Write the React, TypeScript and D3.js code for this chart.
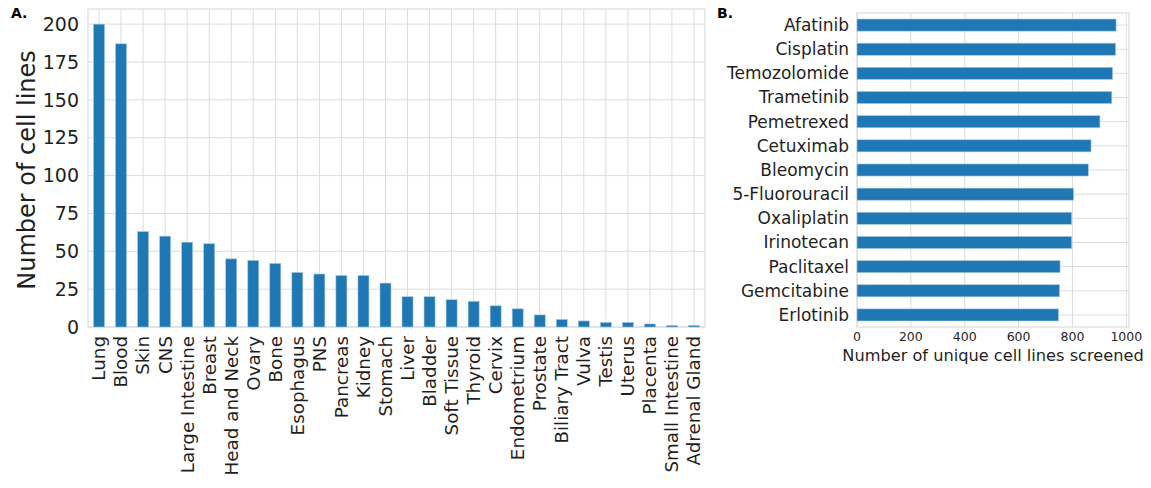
import React from "react";
import * as d3 from "d3";

const tissues = [
  "Lung", "Blood", "Skin", "CNS", "Large Intestine", "Breast", "Head and Neck", "Ovary", "Bone",
  "Esophagus", "PNS", "Pancreas", "Kidney", "Stomach", "Liver", "Bladder", "Soft Tissue", "Thyroid",
  "Cervix", "Endometrium", "Prostate", "Biliary Tract", "Vulva", "Testis", "Uterus", "Placenta",
  "Small Intestine", "Adrenal Gland",
];
const tissueCounts = [
  200, 187, 63, 60, 56, 55, 45, 44, 42, 36, 35, 34, 34, 29, 20, 20, 18, 17, 14, 12, 8, 5, 4, 3, 3, 2, 1, 1,
];
const tissueTicks = [0, 25, 50, 75, 100, 125, 150, 175, 200];

const drugs = [
  "Afatinib", "Cisplatin", "Temozolomide", "Trametinib", "Pemetrexed", "Cetuximab", "Bleomycin",
  "5-Fluorouracil", "Oxaliplatin", "Irinotecan", "Paclitaxel", "Gemcitabine", "Erlotinib",
];
const drugCounts = [962, 960, 949, 946, 902, 869, 859, 804, 797, 797, 754, 752, 748];
const drugTicks = [0, 200, 400, 600, 800, 1000];

const BAR = "#1f77b4";
const GRID = "#dcdcdc";
const TXT = "#1f1f1f";
const FONT = "DejaVu Sans, sans-serif";

export default function App() {
  // Panel A
  const aL = 88, aR = 705, aT = 9, aB = 327;
  const xA = d3.scaleBand<string>().domain(tissues).range([aL, aR]).paddingInner(0).paddingOuter(0);
  const yA = d3.scaleLinear().domain([0, 210]).range([aB, aT]);
  const bwA = xA.bandwidth() * 0.5;

  // Panel B
  const bL = 857, bR = 1129, bT = 13, bB = 327;
  const xB = d3.scaleLinear().domain([0, 1010]).range([bL, bR]);
  const yB = d3.scaleBand<string>().domain(drugs).range([bT, bB]).paddingInner(0).paddingOuter(0);
  const bhB = yB.bandwidth() * 0.5;

  return (
    <svg width={1151} height={488} style={{ position: "absolute", left: 0, top: 0, background: "#fff" }} fontFamily={FONT}>
      <rect x={0} y={0} width={1151} height={488} fill="#fff" />
      {/* Panel A */}
      <text x={11} y={18} fontSize={14} fontWeight="bold" fill="#000">A.</text>
      <g>
        {tissueTicks.map((t) => (
          <line key={"gy" + t} x1={aL} x2={aR} y1={yA(t)} y2={yA(t)} stroke={GRID} strokeWidth={1} />
        ))}
        {tissues.map((c) => {
          const cx = (xA(c) as number) + xA.bandwidth() / 2;
          return <line key={"gx" + c} x1={cx} x2={cx} y1={aT} y2={aB} stroke={GRID} strokeWidth={1} />;
        })}
        <rect x={aL} y={aT} width={aR - aL} height={aB - aT} fill="none" stroke={GRID} strokeWidth={1.2} />
        {tissues.map((c, i) => {
          const cx = (xA(c) as number) + xA.bandwidth() / 2;
          return (
            <rect key={"b" + c} x={cx - bwA / 2} y={yA(tissueCounts[i])} width={bwA}
              height={yA(0) - yA(tissueCounts[i])} fill={BAR} stroke="#a6c8e0" strokeWidth={0.6} />
          );
        })}
        {tissueTicks.map((t) => (
          <text key={"ty" + t} x={79} y={yA(t)} dy="0.35em" textAnchor="end" fontSize={19} fill={TXT}>{t}</text>
        ))}
        {tissues.map((c) => {
          const cx = (xA(c) as number) + xA.bandwidth() / 2;
          return (
            <text key={"tx" + c} transform={`translate(${cx},${aB + 9}) rotate(-90)`} dy="0.35em"
              textAnchor="end" fontSize={18.3} fill={TXT}>{c}</text>
          );
        })}
        <text transform={`translate(35,${(aT + aB) / 2 + 2}) rotate(-90)`} textAnchor="middle" fontSize={24} fill={TXT}>
          Number of cell lines
        </text>
      </g>

      {/* Panel B */}
      <text x={717} y={18} fontSize={14} fontWeight="bold" fill="#000">B.</text>
      <g>
        {drugTicks.map((t) => (
          <line key={"gbx" + t} x1={xB(t)} x2={xB(t)} y1={bT} y2={bB} stroke={GRID} strokeWidth={1} />
        ))}
        {drugs.map((d) => {
          const cy = (yB(d) as number) + yB.bandwidth() / 2;
          return <line key={"gby" + d} x1={bL} x2={bR} y1={cy} y2={cy} stroke={GRID} strokeWidth={1} />;
        })}
        <rect x={bL} y={bT} width={bR - bL} height={bB - bT} fill="none" stroke={GRID} strokeWidth={1.2} />
        {drugs.map((d, i) => {
          const cy = (yB(d) as number) + yB.bandwidth() / 2;
          return (
            <rect key={"bb" + d} x={xB(0)} y={cy - bhB / 2} width={xB(drugCounts[i]) - xB(0)} height={bhB}
              fill={BAR} stroke="#a6c8e0" strokeWidth={0.6} />
          );
        })}
        {drugs.map((d) => {
          const cy = (yB(d) as number) + yB.bandwidth() / 2;
          return (
            <text key={"tby" + d} x={bL - 8} y={cy} dy="0.35em" textAnchor="end" fontSize={17} fill={TXT}>{d}</text>
          );
        })}
        {drugTicks.map((t) => (
          <text key={"tbx" + t} x={xB(t)} y={bB + 14} textAnchor="middle" fontSize={12.5} fill={TXT}>{t}</text>
        ))}
        <text x={(bL + bR) / 2} y={361} textAnchor="middle" fontSize={16.2} fill={TXT}>
          Number of unique cell lines screened
        </text>
      </g>
    </svg>
  );
}
